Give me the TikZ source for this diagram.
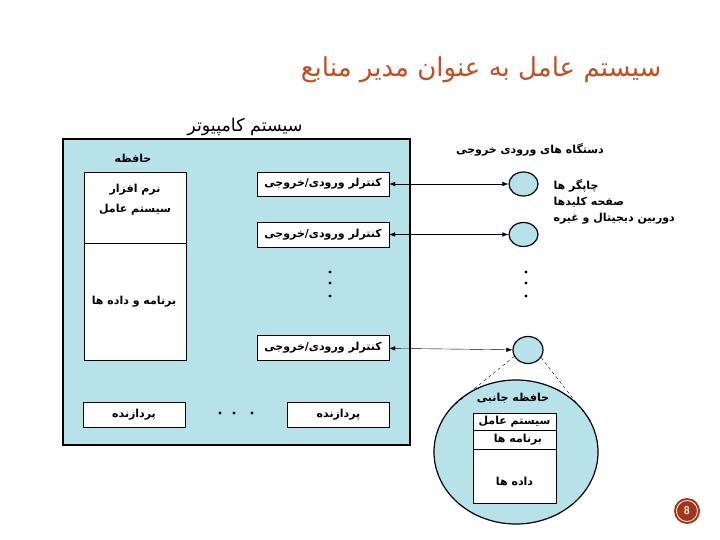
\documentclass[tikz,border=0pt]{standalone}
\usepackage{fontspec}
\newfontfamily\arabicfont[Script=Arabic]{DejaVu Sans}
\TeXXeTstate=1
\usetikzlibrary{shapes,arrows.meta}
\definecolor{boxblue}{RGB}{183,226,234}
\definecolor{titlered}{RGB}{191,80,38}
\definecolor{badgered}{RGB}{165,52,25}

\begin{document}
\begin{tikzpicture}[x=1pt,y=-1pt,
    fa/.style={font=\arabicfont\bfseries\fontsize{11}{16}\selectfont},
    box/.style={draw,fill=white,fa,inner sep=0pt},
    dev/.style={draw,line width=1.2pt,fill=boxblue,ellipse,minimum width=29pt,minimum height=24pt,inner sep=0pt}]
      \useasboundingbox(0,0)rectangle(720,540);
      \node[anchor=east,text=titlered,font=\arabicfont\fontsize{26}{30}\selectfont](title)at(665,70){\beginR سیستم عامل به عنوان مدیر منابع\endR};
      % computer system
      \draw[line width=2pt,fill=boxblue](63,139)rectangle(410,445);
      \node[font=\arabicfont\fontsize{17.5}{20}\selectfont](comp)at(245,127){\beginR سیستم کامپیوتر\endR};
      \node[fa](mem)at(133,158){\beginR حافظه\endR};
      \draw[fill=white](84,172)rectangle(186,360) (84,243)--(186,243);
      \node[fa,align=center](os)at(135,200){\beginR نرم افزار\endR\\[4pt]\beginR سیستم عامل\endR};
      \node[fa](prog)at(134,302){\beginR برنامه و داده ها\endR};
      \foreach \n/\x in{1/134,2/338.5}{
        \node[box,minimum width=102pt,minimum height=25pt](cpu\n)at(\x,414.5){\beginR پردازنده\endR};
      }
      \foreach \x in{220,234,252}{\fill(\x,413)circle(1.7);}
      % controllers and devices
      \foreach \n/\y/\dx/\dy/\w/\h in{1/184/523.5/184/29/24,2/234.5/523.5/234.5/29/24,3/347.5/528/350/30/27}{
        \node[box,minimum width=132pt,minimum height=24.5pt](ctrl\n)at(323,\y){\beginR کنترلر ورودی/خروجی\endR};
        \node[dev,minimum width=\w pt,minimum height=\h pt](dev\n)at(\dx,\dy){};
        \draw[{Latex[length=6pt,width=4.5pt]}-{Latex[length=6pt,width=4.5pt]}](ctrl\n)--(dev\n);
      }
      \foreach \y in{272,283,296}{\fill(330,\y)circle(1.7) (526,\y)circle(1.7);}
      \node[fa](devs)at(530,150){\beginR دستگاه های ورودی خروجی\endR};
      \node[fa,anchor=north west,align=left](kinds)at(550,176){\beginR چاپگر ها\endR\\\beginR صفحه کلیدها\endR\\\beginR دوربین دیجیتال و غیره\endR};
      % secondary storage
      \node[draw,line width=1.2pt,fill=boxblue,ellipse,minimum width=164pt,minimum height=144pt,inner sep=0pt](disk)at(516,452){};
      \draw[dashed](dev3.205)--(disk.147) (dev3.-30)--(disk.22);
      \node[fa](aux)at(513,398){\beginR حافظه جانبی\endR};
      \draw[fill=white](473,413)rectangle(556,503) (473,430)--(556,430) (473,449)--(556,449);
      \node[fa](dos)at(514.5,421.5){\beginR سیستم عامل\endR};
      \node[fa](dprog)at(518,439.5){\beginR برنامه ها\endR};
      \node[fa](ddata)at(514.5,481){\beginR داده ها\endR};
      % page number
      \node[circle,fill=badgered,minimum size=26pt,inner sep=0pt](page)at(687,511){};
      \draw[white,thick](page)circle(10.5);
      \node[text=white,font=\sffamily\bfseries\fontsize{11}{13}\selectfont](num)at(page){8};
\end{tikzpicture}
\end{document}
